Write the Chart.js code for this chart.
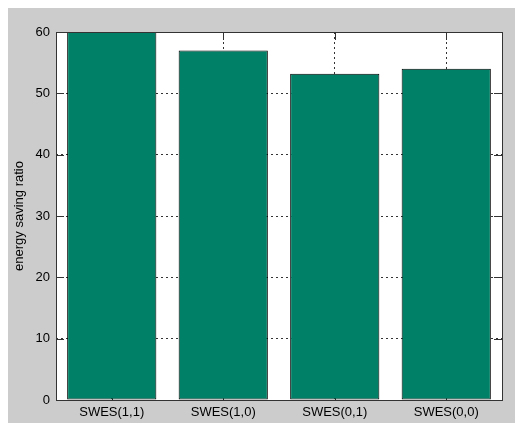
<!DOCTYPE html>
<html>
<head>
<meta charset="utf-8">
<script src="https://cdn.jsdelivr.net/npm/chart.js@4.4.1/dist/chart.umd.min.js"></script>
<style>
  body { margin: 8px; background: #ffffff; }
  #wrap { width: 515px; height: 415px; background: #cccccc; }
</style>
</head>
<body>
<div id="wrap"><canvas id="chart" width="515" height="415"></canvas></div>
<script>
// Data
const categories = ['SWES(1,1)', 'SWES(1,0)', 'SWES(0,1)', 'SWES(0,0)'];
const savingRatio = [60, 57, 53.2, 54];
const yMin = 0;
const yMax = 60;
const yStep = 10;

const barColor = '#008066';
const lineColor = '#333333';
const font = { family: 'Liberation Sans, Arial, sans-serif', size: 13 };

// White plot area, inward ticks and the frame around it
const frame = {
    id: 'frame',
    beforeDraw(chart) {
        const a = chart.chartArea;
        const ctx = chart.ctx;
        ctx.save();
        ctx.fillStyle = '#ffffff';
        ctx.fillRect(a.left, a.top, a.right - a.left, a.bottom - a.top);
        ctx.restore();
    },
    beforeDatasetsDraw(chart) {
        const a = chart.chartArea;
        const ctx = chart.ctx;
        const len = 8;
        ctx.save();
        ctx.strokeStyle = lineColor;
        ctx.lineWidth = 1;
        ctx.beginPath();
        chart.scales.y.ticks.forEach(t => {
            const y = Math.round(chart.scales.y.getPixelForValue(t.value)) + 0.5;
            ctx.moveTo(a.left, y); ctx.lineTo(a.left + len, y);
            ctx.moveTo(a.right, y); ctx.lineTo(a.right - len, y);
        });
        categories.forEach((c, i) => {
            const x = Math.round(chart.scales.x.getPixelForValue(i)) + 0.5;
            ctx.moveTo(x, a.top); ctx.lineTo(x, a.top + len);
            ctx.moveTo(x, a.bottom); ctx.lineTo(x, a.bottom - len);
        });
        ctx.stroke();
        ctx.restore();
    },
    afterDraw(chart) {
        const a = chart.chartArea;
        const ctx = chart.ctx;
        ctx.save();
        ctx.strokeStyle = lineColor;
        ctx.lineWidth = 1;
        ctx.strokeRect(Math.round(a.left) + 0.5, Math.round(a.top) + 0.5,
            Math.round(a.right - a.left), Math.round(a.bottom - a.top));
        ctx.restore();
    }
};

new Chart(document.getElementById('chart'), {
    type: 'bar',
    data: {
        labels: categories,
        datasets: [{
            data: savingRatio,
            backgroundColor: barColor,
            borderColor: '#000000',
            borderWidth: 1,
            borderSkipped: false,
            categoryPercentage: 1,
            barPercentage: 0.8
        }]
    },
    options: {
        responsive: false,
        animation: false,
        layout: { padding: { left: 0, top: 24, right: 21, bottom: 0 } },
        plugins: {
            legend: { display: false },
            tooltip: { enabled: false }
        },
        scales: {
            x: {
                afterFit(scale) { scale.height = 23; },
                grid: {
                    offset: false,
                    color: lineColor,
                    drawTicks: false
                },
                border: { display: false, dash: [2, 3] },
                ticks: { color: '#000000', font: font, padding: 5, maxRotation: 0 }
            },
            y: {
                min: yMin,
                max: yMax,
                afterFit(scale) { scale.width = 48; },
                grid: { color: lineColor, drawTicks: false },
                border: { display: false, dash: [2, 3] },
                ticks: { stepSize: yStep, color: '#000000', font: font, padding: 6 },
                title: {
                    display: true,
                    text: 'energy saving ratio',
                    color: '#000000',
                    font: font,
                    padding: { top: 4, bottom: 0 }
                }
            }
        }
    },
    plugins: [frame]
});
</script>
</body>
</html>
